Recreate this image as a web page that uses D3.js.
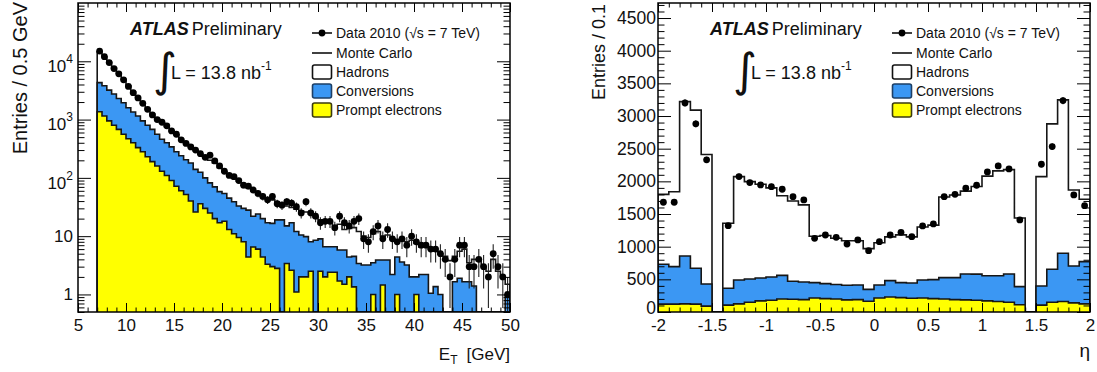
<!DOCTYPE html>
<html><head><meta charset="utf-8">
<script src="https://cdn.jsdelivr.net/npm/d3@7"></script>
<style>
body{margin:0;background:#fff;}
svg text{font-family:"Liberation Sans",Arial,Helvetica,sans-serif;}
</style></head><body>
<svg id="c" width="1097" height="372"></svg>
<script>
// ---------------- DATA ----------------
// Left panel: E_T distribution, 0.5 GeV bins from 7 to 50 GeV
const etBinEdges = d3.range(7, 50.25, 0.5);
const etData = [15000,12000,9500,7500,6100,4800,3700,2900,2350,1900,
  1500,1200,1000,900,780,640,560,450,390,340,
  300,260,225,245,195,160,130,110,105,90,
  75,72,62,54,48,42,48,36,34,39,
  37,32,25,39,25,22,17,18,18,14,
  22,17,15,18,20,9,8,12,15,9,
  13,9,8,9,7,10,8,7,7,6,
  6,5,4,2,4,7,7,3,3,4,
  3,2,5,3,2,1];
const etPrompt = [1365,1150,950,800,680,560,470,400,330,280,
  230,190,160,130,110,90,72,60,52,40,
  26,36,30,25,20,17,18,13,11,9.5,
  8,4.4,6.5,6,4.4,3.3,3,2.8,0,3.4,
  2.6,1.1,2,2,2.5,0,2.5,2,2.4,2.4,
  1.7,1.5,2,1.35,0,0,0,1,0,1.45,
  0,0,1,0,0,0,1,0,0,0,
  0,0,0,0,0,0,0,0,0,0,
  0,0,0,0,0,0];
const etConversions = [2935,2650,2250,1950,1620,1390,1130,950,820,670,
  570,490,400,330,290,250,208,180,153,140,
  114,89,70,57,50,41,36,32,28,23.5,
  22,23.6,15.5,18,15.6,13.7,13.6,16.2,19,11.6,
  14.4,10.9,8.5,7.8,5.5,8.5,6.5,4.6,4.2,4.2,
  4.1,4.3,2.4,3.15,3.4,3.2,3.2,2.5,3.9,2.45,
  3.9,2.2,3.4,3.6,3.2,2,1,2.2,2.2,1.05,
  1.36,1,0,0,1.65,1.9,1.65,1.65,1.4,0,
  0,0,0,0,0,1];
const etHadrons = [10200,8200,6400,4950,3900,2950,2200,1650,1250,1000,
  750,570,470,420,360,300,270,220,185,160,
  155,130,125,118,110,92,74,65,59,55,
  45,40,38,30,28,27,25.4,19,15,18,
  14,17,16.5,16.2,16,12.5,10,11.4,10.4,8.4,
  10.2,7.2,9.1,9.5,8.6,6.8,6.3,7.5,8.1,6.1,
  6.6,6.8,4.1,5.4,4.8,6.5,5.5,4.3,4.3,4.95,
  4.14,4,4.5,3.8,2.85,3.6,4.35,1.85,2.6,3.8,
  3,2.5,4,2.5,2,0.5];
const etXTicks = [5,10,15,20,25,30,35,40,45,50];
const etYTicks = [1,10,100,1000,10000];
const etYTickLabels = ["1","10","10^2","10^3","10^4"];

// Right panel: eta distribution, 0.1 bins from -2 to 2
const etaBinEdges = [-2,-1.9,-1.8,-1.7,-1.6,-1.5,-1.4,-1.3,-1.2,-1.1,-1,-0.9,-0.8,-0.7,-0.6,-0.5,-0.4,-0.3,-0.2,-0.1,0,
  0.1,0.2,0.3,0.4,0.5,0.6,0.7,0.8,0.9,1,1.1,1.2,1.3,1.4,1.5,1.6,1.7,1.8,1.9,2];
const etaData = [1680,1680,3200,2880,2330,null,1322,2073,1981,1945,
  1919,1879,1766,1715,1128,1179,1143,1041,1103,939,
  1077,1179,1220,1153,1317,1348,1766,1802,1894,1940,
  2144,2236,2190,1409,null,2262,2532,3236,1792,1628];
const etaPrompt = [120,120,125,120,90,0,105,125,150,170,
  180,200,195,190,215,205,200,185,190,165,
  215,230,220,210,215,205,200,190,185,180,
  170,160,150,110,0,105,150,160,140,125];
const etaConversions = [610,574,733,549,339,0,258,365,355,350,
  355,360,275,270,235,230,220,225,223,182,
  198,250,230,235,275,290,326,336,397,400,
  386,396,432,278,0,293,504,739,564,646];
const etaHadrons = [1070,1146,2362,2421,1981,0,995,1583,1491,1435,
  1365,1220,1230,1180,710,735,710,680,677,623,
  647,670,730,705,810,835,1234,1264,1268,1340,
  1524,1604,1598,1052,0,1675,2226,2348,1164,955];
const etaXTicks = [-2,-1.5,-1,-0.5,0,0.5,1,1.5,2];
const etaXTickLabels = ["-2","-1.5","-1","-0.5","0","0.5","1","1.5","2"];
const etaYTicks = [0,500,1000,1500,2000,2500,3000,3500,4000,4500];

const legendLabels = ["Data 2010 (\u221As = 7 TeV)","Monte Carlo","Hadrons","Conversions","Prompt electrons"];

// ---------------- DRAW ----------------
const svg = d3.select("#c");
const BLUE = "#3b97f3", YELLOW = "#ffff00", INK = "#111";
const defs = svg.append("defs");

function stepPoints(edges, vals, x, y, vmin){
  const base = y.range()[0];
  const pts = [[x(edges[0]), base]];
  vals.forEach((v,i)=>{ const yy = y(Math.max(v, vmin)); pts.push([x(edges[i]), yy],[x(edges[i+1]), yy]); });
  pts.push([x(edges[edges.length-1]), base]);
  return pts;
}

function styleAxis(g, fs){
  g.select(".domain").remove();
  g.attr("font-size", fs).attr("font-family", '"Liberation Sans",Arial,sans-serif');
  g.selectAll(".tick line").attr("stroke", "#000").attr("stroke-width", 1);
  g.selectAll(".tick text").attr("fill", INK);
}

function drawPanel(o){
  const x = o.x, y = o.y;
  const [x0, x1] = x.range(), [yb, yt] = y.range();
  const clipId = o.id + "-clip";
  defs.append("clipPath").attr("id", clipId).append("rect")
    .attr("x", x0).attr("y", yt).attr("width", x1-x0).attr("height", yb-yt);
  const plot = svg.append("g").attr("clip-path", `url(#${clipId})`);

  const rows = o.prompt.map((p,i)=>({prompt:p, conversions:o.conversions[i], hadrons:o.hadrons[i]}));
  const series = d3.stack().keys(["prompt","conversions","hadrons"])(rows);
  const fills = [YELLOW, BLUE, "#ffffff"];
  [2,1,0].forEach(k=>{
    const tops = series[k].map(d=>d[1]);
    plot.append("path")
      .attr("d", d3.line()(stepPoints(o.edges, tops, x, y, o.vmin)))
      .attr("fill", fills[k]).attr("stroke", "#161616").attr("stroke-width", 1.6);
  });

  const centers = o.edges.slice(0,-1).map((e,i)=>(e+o.edges[i+1])/2);
  const pts = o.data.map((v,i)=>({c:centers[i], v})).filter(d=>d.v!=null && d.v>0);
  plot.selectAll(null).data(pts).enter().append("line")
    .attr("x1", d=>x(d.c)).attr("x2", d=>x(d.c))
    .attr("y1", d=>y(Math.max(d.v - Math.sqrt(d.v), o.vmin)))
    .attr("y2", d=>y(d.v + Math.sqrt(d.v)))
    .attr("stroke", "#222").attr("stroke-width", 1.1);
  plot.selectAll(null).data(pts).enter().append("circle")
    .attr("cx", d=>x(d.c)).attr("cy", d=>y(d.v)).attr("r", 3.4).attr("fill", "#000");

  // axes: left (labels), bottom (labels), right & top (mirror ticks)
  const gL = svg.append("g").attr("transform", `translate(${x0},0)`)
    .call(d3.axisLeft(y).tickValues(o.yMajor).tickSizeInner(-13).tickSizeOuter(0).tickPadding(o.yPad)
      .tickFormat(d=>o.yLabel(d)));
  styleAxis(gL, o.yFont);
  gL.selectAll(".tick text").each(function(d){
    const lab = o.yLabel(d);
    if (lab.includes("^")) {
      const [b, e] = lab.split("^");
      const t = d3.select(this).text(null).attr("dy", "0.6em");
      t.append("tspan").text(b);
      t.append("tspan").attr("font-size", 12).attr("dy", -9).text(e);
    }
  });
  if (o.zeroLift) gL.selectAll(".tick text").filter(d=>d===0).attr("dy", "0.1em");
  const gLm = svg.append("g").attr("transform", `translate(${x0},0)`)
    .call(d3.axisLeft(y).tickValues(o.yMinor).tickSizeInner(-6.5).tickSizeOuter(0).tickFormat(()=>""));
  styleAxis(gLm, 10);
  [[o.yMajor,-13],[o.yMinor,-6.5]].forEach(([tv,len])=>{
    const g = svg.append("g").attr("transform", `translate(${x1},0)`)
      .call(d3.axisRight(y).tickValues(tv).tickSizeInner(len).tickSizeOuter(0).tickFormat(()=>""));
    styleAxis(g, 10);
  });

  const gB = svg.append("g").attr("transform", `translate(0,${yb})`)
    .call(d3.axisBottom(x).tickValues(o.xMajor).tickSizeInner(-9).tickSizeOuter(0).tickPadding(7)
      .tickFormat(d=>o.xLabel(d)));
  styleAxis(gB, 17);
  [[o.xMinor,-4.5,yb,"bottom"],[o.xMajor,-9,yt,"top"],[o.xMinor,-4.5,yt,"top"]].forEach(([tv,len,yy,side])=>{
    const ax = side==="bottom" ? d3.axisBottom(x) : d3.axisTop(x);
    const g = svg.append("g").attr("transform", `translate(0,${yy})`)
      .call(ax.tickValues(tv).tickSizeInner(len).tickSizeOuter(0).tickFormat(()=>""));
    styleAxis(g, 10);
  });

  svg.append("rect").attr("x", x0).attr("y", yt).attr("width", x1-x0).attr("height", yb-yt)
    .attr("fill", "none").attr("stroke", "#000").attr("stroke-width", 1.5);

  // ATLAS label
  const at = svg.append("text").attr("x", x0+52).attr("y", 35).attr("font-size", 18).attr("fill", INK);
  at.append("tspan").attr("font-weight", "bold").attr("font-style", "italic").text("ATLAS");
  at.append("tspan").attr("dx", 3).text("Preliminary");

  // luminosity
  svg.append("text").attr("x", x0+75).attr("y", 86).attr("font-size", 46)
    .style("font-family", '"DejaVu Sans",sans-serif').attr("fill", INK).text("\u222B");
  const lt = svg.append("text").attr("x", x0+93).attr("y", 79).attr("font-size", 18).attr("fill", INK);
  lt.append("tspan").text("L = 13.8 nb");
  lt.append("tspan").attr("font-size", 12).attr("dy", -9).text("-1");

  // legend
  const lx = x0 + 234, rowsY = [33, 53, 72, 91, 110];
  const lg = svg.append("g");
  lg.append("line").attr("x1", lx).attr("x2", lx+20).attr("y1", rowsY[0]).attr("y2", rowsY[0]).attr("stroke", "#000").attr("stroke-width", 1.5);
  lg.append("circle").attr("cx", lx+10).attr("cy", rowsY[0]).attr("r", 3.4).attr("fill", "#000");
  lg.append("line").attr("x1", lx).attr("x2", lx+20).attr("y1", rowsY[1]).attr("y2", rowsY[1]).attr("stroke", "#000").attr("stroke-width", 1.5);
  [["#fff","#111"],[BLUE,"#1d3f66"],[YELLOW,"#3a3a10"]].forEach(([f,s],k)=>{
    lg.append("rect").attr("x", lx+0.5).attr("y", rowsY[k+2]-7).attr("width", 19).attr("height", 14).attr("rx", 2)
      .attr("fill", f).attr("stroke", s).attr("stroke-width", 1.6);
  });
  legendLabels.forEach((t,k)=>{
    lg.append("text").attr("x", lx+24).attr("y", rowsY[k]+5).attr("font-size", 14).attr("fill", INK).text(t);
  });
}

// Left panel
const xEt = d3.scaleLinear().domain([5, 50]).range([78, 510]);
const yEt = d3.scaleLog().domain([0.5, 1e5]).range([312, 3]);
const etMinor = [];
[-1,0,1,2,3,4].forEach(p=>{ for (let m=2;m<=9;m++){ const v=m*Math.pow(10,p); if (v>=0.5 && v<=1e5) etMinor.push(v);} });
drawPanel({
  id:"et", x:xEt, y:yEt, vmin:0.5, edges:etBinEdges,
  data:etData, prompt:etPrompt, conversions:etConversions, hadrons:etHadrons,
  yMajor:etYTicks, yMinor:etMinor, yPad:5, yFont:17,
  yLabel:d=>etYTickLabels[etYTicks.indexOf(d)],
  xMajor:etXTicks, xMinor:d3.range(5, 51, 1).filter(v=>v%5!==0), xLabel:d=>String(d)
});

// Right panel
const xEta = d3.scaleLinear().domain([-2, 2]).range([658, 1090]);
const yEta = d3.scaleLinear().domain([0, 4730]).range([312, 3]);
drawPanel({
  id:"eta", x:xEta, y:yEta, vmin:0, edges:etaBinEdges, zeroLift:true,
  data:etaData, prompt:etaPrompt, conversions:etaConversions, hadrons:etaHadrons,
  yMajor:etaYTicks, yMinor:d3.range(100, 4730, 100).filter(v=>v%500!==0), yPad:2, yFont:17.5,
  yLabel:d=>String(d),
  xMajor:etaXTicks, xMinor:d3.range(-19, 20, 1).filter(v=>v%5!==0).map(v=>v/10),
  xLabel:d=>etaXTickLabels[etaXTicks.indexOf(d)]
});

// axis titles
svg.append("text").attr("transform", "translate(27,2) rotate(-90)").attr("text-anchor", "end")
  .attr("font-size", 20).attr("fill", INK).text("Entries / 0.5 GeV");
svg.append("text").attr("transform", "translate(605,100) rotate(-90)").attr("text-anchor", "start")
  .attr("font-size", 18).attr("fill", INK).text("Entries / 0.1");
const xt = svg.append("text").attr("x", 510).attr("y", 360).attr("text-anchor", "end").attr("font-size", 17).attr("fill", INK);
xt.append("tspan").text("E");
xt.append("tspan").attr("font-size", 12).attr("dy", 4).text("T");
xt.append("tspan").attr("dy", -4).attr("dx", 9).text("[GeV]");
svg.append("text").attr("x", 1090).attr("y", 357).attr("text-anchor", "end").attr("font-size", 19).attr("fill", INK).text("\u03B7");
</script>
</body></html>
